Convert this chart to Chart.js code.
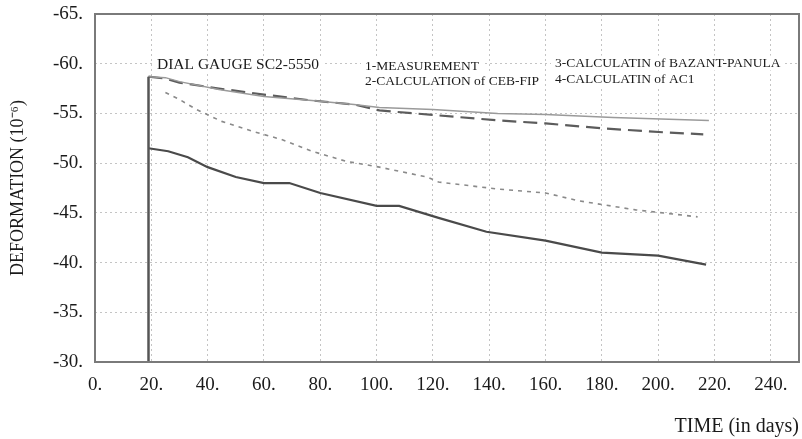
<!DOCTYPE html>
<html>
<head>
<meta charset="utf-8">
<script src="https://cdn.jsdelivr.net/npm/chart.js@4/dist/chart.umd.min.js"></script>
<style>
  html, body { margin: 0; padding: 0; background: #fff; }
  #wrap { width: 802px; height: 439px; }
</style>
</head>
<body>
<div id="wrap"><canvas id="myChart" width="802" height="439"></canvas></div>
<script>
// vertical step of the dial gauge at loading
var dialDays = [19, 19];
var dialVals = [-30, -58.7];

// 1 - measurement
var measDays = [19, 25, 30, 44, 60, 77, 92, 101, 120, 143, 160, 184, 218];
var measVals = [-58.7, -58.6, -58.2, -57.4, -56.7, -56.3, -55.9, -55.6, -55.4, -55.0, -54.9, -54.6, -54.3];

// 2 - CEB-FIP
var cebDays = [19, 25, 30, 44, 60, 77, 92, 101, 122, 143, 160, 180, 202, 216];
var cebVals = [-58.7, -58.5, -58.1, -57.5, -56.9, -56.3, -55.9, -55.3, -54.8, -54.3, -54.0, -53.5, -53.1, -52.9];

// 3 - Bazant-Panula
var bazDays = [25, 30, 36, 45, 56, 66, 77, 89, 101, 118, 122, 143, 160, 172, 192, 214];
var bazVals = [-57.1, -56.4, -55.4, -54.2, -53.2, -52.4, -51.2, -50.2, -49.6, -48.6, -48.1, -47.4, -47.0, -46.2, -45.3, -44.6];

// 4 - AC1
var acDays = [19, 26, 33, 40, 50, 60, 69, 80, 100, 108, 122, 139, 160, 180, 200, 217];
var acVals = [-51.5, -51.2, -50.6, -49.6, -48.6, -48.0, -48.0, -47.0, -45.7, -45.7, -44.5, -43.1, -42.2, -41.0, -40.7, -39.8];

var xTickStep = 20;
var yTickStep = 5;

function pts(days, vals) {
    var out = [];
    for (var i = 0; i < days.length; i++) {
        out.push({ x: days[i], y: vals[i] });
    }
    return out;
}

var SERIF = '"Liberation Serif", "Times New Roman", serif';

// text boxes inside the plot (white background hides the grid)
var notes = [
    { text: 'DIAL GAUGE SC2-5550', x: 157, y: 65, size: 15.5 },
    { text: '1-MEASUREMENT', x: 365, y: 66, size: 13.5 },
    { text: '2-CALCULATION of CEB-FIP', x: 365, y: 81, size: 13.5 },
    { text: '3-CALCULATIN of BAZANT-PANULA', x: 555, y: 63, size: 13.5 },
    { text: '4-CALCULATIN of AC1', x: 555, y: 79, size: 13.5 }
];

var notesPlugin = {
    id: 'notes',
    beforeDatasetsDraw: function (chart) {
        var ctx = chart.ctx;
        ctx.save();
        ctx.textBaseline = 'middle';
        ctx.textAlign = 'left';
        notes.forEach(function (n) {
            ctx.font = n.size + 'px ' + SERIF;
            var w = ctx.measureText(n.text).width;
            ctx.fillStyle = '#fff';
            ctx.fillRect(n.x - 4, n.y - n.size * 0.55, w + 8, n.size * 1.1);
            ctx.fillStyle = '#1a1a1a';
            ctx.fillText(n.text, n.x, n.y);
        });
        ctx.restore();
    },
    afterDraw: function (chart) {
        var a = chart.chartArea;
        var ctx = chart.ctx;
        ctx.save();
        ctx.strokeStyle = '#7a7a7a';
        ctx.lineWidth = 2;
        ctx.strokeRect(a.left, a.top, a.right - a.left, a.bottom - a.top);
        ctx.restore();
    }
};

var ctx = document.getElementById('myChart').getContext('2d');

var chart = new Chart(ctx, {
    type: 'line',
    data: {
        datasets: [{
            label: 'dial',
            data: pts(dialDays, dialVals),
            borderColor: '#555',
            borderWidth: 2.5,
            pointRadius: 0
        }, {
            label: '1-MEASUREMENT',
            data: pts(measDays, measVals),
            borderColor: '#9a9a9a',
            borderWidth: 1.5,
            pointRadius: 0
        }, {
            label: '2-CALCULATION of CEB-FIP',
            data: pts(cebDays, cebVals),
            borderColor: '#5c5c5c',
            borderWidth: 2.2,
            borderDash: [14, 7],
            pointRadius: 0
        }, {
            label: '3-CALCULATIN of BAZANT-PANULA',
            data: pts(bazDays, bazVals),
            borderColor: '#8a8a8a',
            borderWidth: 1.6,
            borderDash: [4, 5],
            pointRadius: 0
        }, {
            label: '4-CALCULATIN of AC1',
            data: pts(acDays, acVals),
            borderColor: '#4a4a4a',
            borderWidth: 2.2,
            pointRadius: 0
        }]
    },
    options: {
        responsive: false,
        animation: false,
        layout: { padding: { top: 14, right: 3, left: 0, bottom: 0 } },
        plugins: {
            legend: { display: false },
            tooltip: { enabled: false }
        },
        scales: {
            x: {
                type: 'linear',
                min: 0,
                max: 250,
                afterFit: function (s) {
                    s.height = 77;
                    s.paddingLeft = 0;
                    s.paddingRight = 0;
                },
                ticks: {
                    stepSize: xTickStep,
                    includeBounds: false,
                    maxRotation: 0,
                    autoSkip: false,
                    padding: 12,
                    color: '#1a1a1a',
                    font: { family: SERIF, size: 19 },
                    callback: function (v) { return v + '.'; }
                },
                grid: { color: '#c4c4c4', lineWidth: 1, drawTicks: false },
                border: { display: false, dash: [2, 3] },
                title: {
                    display: true,
                    text: 'TIME (in days)',
                    align: 'end',
                    color: '#1a1a1a',
                    font: { family: SERIF, size: 20 },
                    padding: { top: 0, bottom: 0 }
                }
            },
            y: {
                type: 'linear',
                reverse: true,
                min: -65,
                max: -30,
                afterFit: function (s) {
                    s.width = 95;
                    s.paddingTop = 0;
                    s.paddingBottom = 0;
                },
                ticks: {
                    stepSize: yTickStep,
                    padding: 12,
                    color: '#1a1a1a',
                    font: { family: SERIF, size: 19 },
                    callback: function (v) { return v + '.'; }
                },
                grid: { color: '#c4c4c4', lineWidth: 1, drawTicks: false },
                border: { display: false, dash: [2, 3] },
                title: {
                    display: true,
                    text: 'DEFORMATION (10\u207B\u2076)',
                    color: '#1a1a1a',
                    font: { family: SERIF, size: 18 },
                    padding: { top: 7, bottom: 0 }
                }
            }
        }
    },
    plugins: [notesPlugin]
});
</script>
</body>
</html>
